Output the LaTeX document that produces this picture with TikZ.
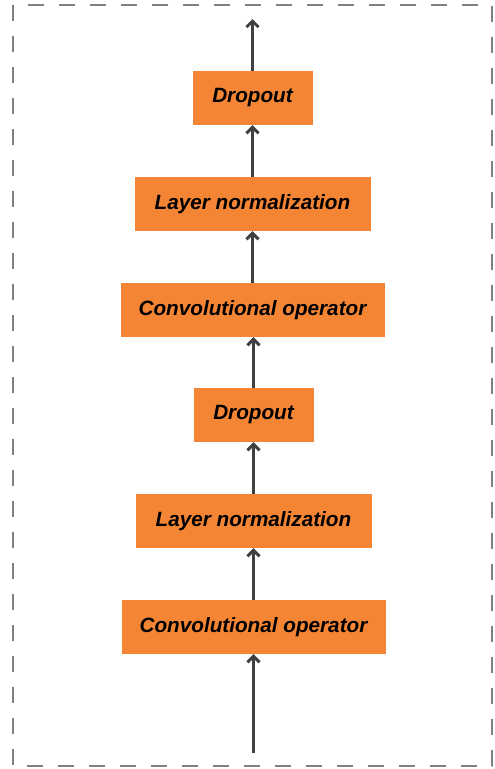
\documentclass[tikz,border=0pt]{standalone}
\usepackage{fontspec}
\setmainfont{Liberation Sans}
\usetikzlibrary{arrows.meta}
\definecolor{boxorange}{HTML}{F48534}
\definecolor{arrowgray}{HTML}{404040}
\definecolor{framegray}{HTML}{808080}
\tikzset{
  layerbox/.style={fill=boxorange, draw=none, inner sep=0pt, minimum height=54pt,
    font=\fontsize{20.7}{24}\selectfont\bfseries\itshape, text=black},
  flow/.style={draw=arrowgray, line width=3pt, -{Straight Barb[length=6pt,width=12pt]}},
  frame/.style={draw=framegray, line width=1.5pt, dash pattern=on 16pt off 15pt}
}
\begin{document}
\begin{tikzpicture}[x=1pt,y=-1pt]
\useasboundingbox (0,0) rectangle (495,769);
\fill[white] (0,0) rectangle (495,769);
\draw[frame] (13,5) rectangle (492,766);
\node[layerbox, minimum width=120pt] (d1) at (252.5,98) {Dropout};
\node[layerbox, minimum width=236pt] (l1) at (252.5,204) {Layer normalization};
\node[layerbox, minimum width=264pt] (c1) at (252.5,310) {Convolutional operator};
\node[layerbox, minimum width=120pt] (d2) at (253.5,415) {Dropout};
\node[layerbox, minimum width=236pt] (l2) at (253.5,521) {Layer normalization};
\node[layerbox, minimum width=264pt] (c2) at (253.5,627) {Convolutional operator};
\coordinate (top) at (252.5,19);
\coordinate (bot) at (253.5,753);
\draw[flow] (bot) -- (c2.south);
\draw[flow] (c2.north) -- (l2.south);
\draw[flow] (l2.north) -- (d2.south);
\draw[flow] (d2.north) -- (c1.south -| d2.north);
\draw[flow] (c1.north) -- (l1.south);
\draw[flow] (l1.north) -- (d1.south);
\draw[flow] (d1.north) -- (top);
\end{tikzpicture}
\end{document}
